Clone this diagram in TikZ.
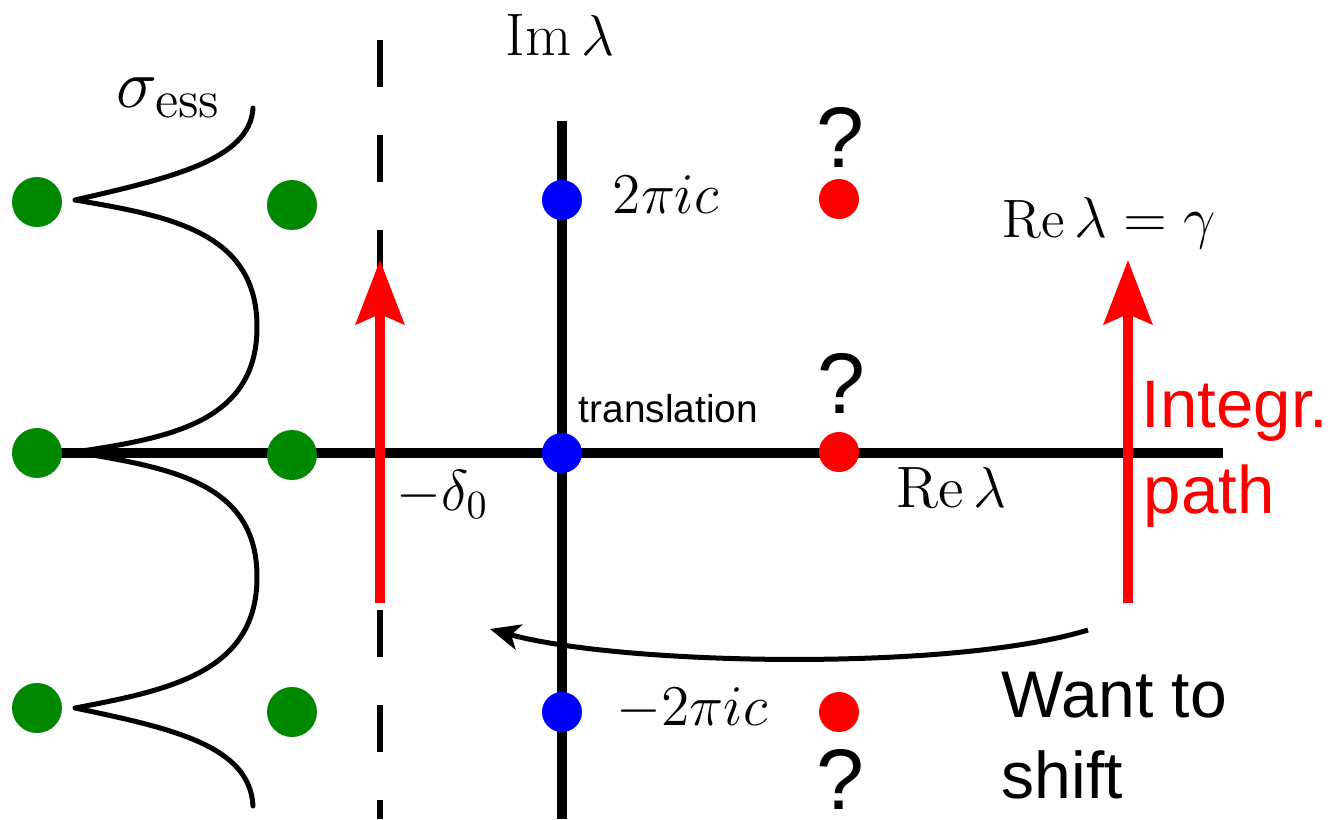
\documentclass[tikz,border=0pt]{standalone}
\usepackage{amsmath}
\usepackage{fontspec}
\setsansfont{Liberation Sans}
\usetikzlibrary{arrows.meta}
\definecolor{dotgreen}{RGB}{0,136,0}
\begin{document}
\begin{tikzpicture}[x=0.25pt,y=-0.25pt,
  gdot/.style={circle,fill=dotgreen,minimum size=12.5pt,inner sep=0pt},
  bdot/.style={circle,fill=blue,minimum size=10pt,inner sep=0pt},
  rdot/.style={circle,fill=red,minimum size=10pt,inner sep=0pt},
  axisline/.style={line width=2.5pt},
  dashline/.style={line width=1.5pt,dash pattern=on 11.75pt off 12pt},
  wave/.style={line width=1.25pt,line join=round,line cap=round},
  redarrow/.style={red,line width=2.4pt,-{Stealth[length=16pt,width=12pt,inset=2.5pt]}},
  shiftarrow/.style={line width=1.25pt,-{Stealth[length=7.5pt,width=6.5pt,inset=2pt]}},
  lbl/.style={inner sep=0pt,anchor=base west},
  qm/.style={inner sep=0pt,anchor=base,font=\sffamily\fontsize{21.5}{24}\selectfont},
  sflbl/.style={inner sep=0pt,anchor=base west,font=\sffamily\fontsize{16.5}{20}\selectfont}
]
\useasboundingbox (0,0) rectangle (1343,819);

% coordinates for lines
\coordinate (hL) at (40,453);
\coordinate (hR) at (1223,453);
\coordinate (vT) at (562,121);
\coordinate (vB) at (562,819);
\coordinate (dT) at (380,40);
\coordinate (dB) at (380,819);

% dashed line
\draw[dashline] (dT) -- (dB);

% axes
\draw[axisline] (hL) -- (hR);
\draw[axisline] (vT) -- (vB);

% essential spectrum curve
\draw[wave] (253,108) .. controls (250,160) and (170,178) .. (75,200)
  .. controls (170,216) and (257,232) .. (257,327)
  .. controls (257,422) and (170,438) .. (75,452)
  .. controls (170,468) and (257,482) .. (257,577)
  .. controls (257,672) and (170,690) .. (75,708)
  .. controls (170,728) and (250,745) .. (253,806);

% green dots
\node[gdot] (g1) at (37,202) {};
\node[gdot] (g2) at (292,205) {};
\node[gdot] (g3) at (37,453) {};
\node[gdot] (g4) at (292,455) {};
\node[gdot] (g5) at (37,708) {};
\node[gdot] (g6) at (292,712) {};

% blue dots
\node[bdot] (b1) at (562,200) {};
\node[bdot] (b2) at (562,453) {};
\node[bdot] (b3) at (562,712) {};

% red dots
\node[rdot] (r1) at (839,199) {};
\node[rdot] (r2) at (839,452) {};
\node[rdot] (r3) at (839,712) {};

% red arrows
\coordinate (la0) at (380,603);
\coordinate (la1) at (380,260);
\coordinate (ra0) at (1128,603);
\coordinate (ra1) at (1128,260);
\draw[redarrow] (la0) -- (la1);
\draw[redarrow] (ra0) -- (ra1);

% shift arrow
\coordinate (s0) at (1088,630);
\coordinate (s1) at (490,629);
\draw[shiftarrow] (s0) .. controls (950,672) and (620,665) .. (s1);

% math labels
\node[lbl,font=\fontsize{15}{18}\selectfont] (im) at (505,55) {$\operatorname{Im}\lambda$};
\node[lbl,font=\fontsize{19}{22}\selectfont] (sig) at (116,107) {$\sigma_{\mathrm{ess}}$};
\node[lbl,font=\fontsize{14.3}{17}\selectfont] (tp) at (612,213) {$2\pi i c$};
\node[lbl,font=\fontsize{14.3}{17}\selectfont] (tm) at (616,725) {$-2\pi i c$};
\node[lbl,font=\fontsize{14.5}{17}\selectfont] (del) at (396,510) {$-\delta_0$};
\node[lbl,font=\fontsize{13.5}{16}\selectfont] (reg) at (1002,237) {$\operatorname{Re}\lambda=\gamma$};
\node[lbl,font=\fontsize{14.6}{18}\selectfont] (re) at (896,507) {$\operatorname{Re}\lambda$};

% sans labels
\node[lbl,font=\sffamily\fontsize{9.7}{12}\selectfont] (tr) at (578,422) {translation};
\node[sflbl,red,font=\sffamily\fontsize{16.8}{20}\selectfont] (int) at (1141,427) {Integr.};
\node[sflbl,red,font=\sffamily\fontsize{16.8}{20}\selectfont] (pth) at (1143,513) {path};
\node[sflbl] (want) at (1001,717) {Want to};
\node[sflbl] (shf) at (1001,798) {shift};

% question marks
\node[qm] (q1) at (840,167) {?};
\node[qm] (q2) at (841,413) {?};
\node[qm] (q3) at (840,809) {?};
\end{tikzpicture}
\end{document}
